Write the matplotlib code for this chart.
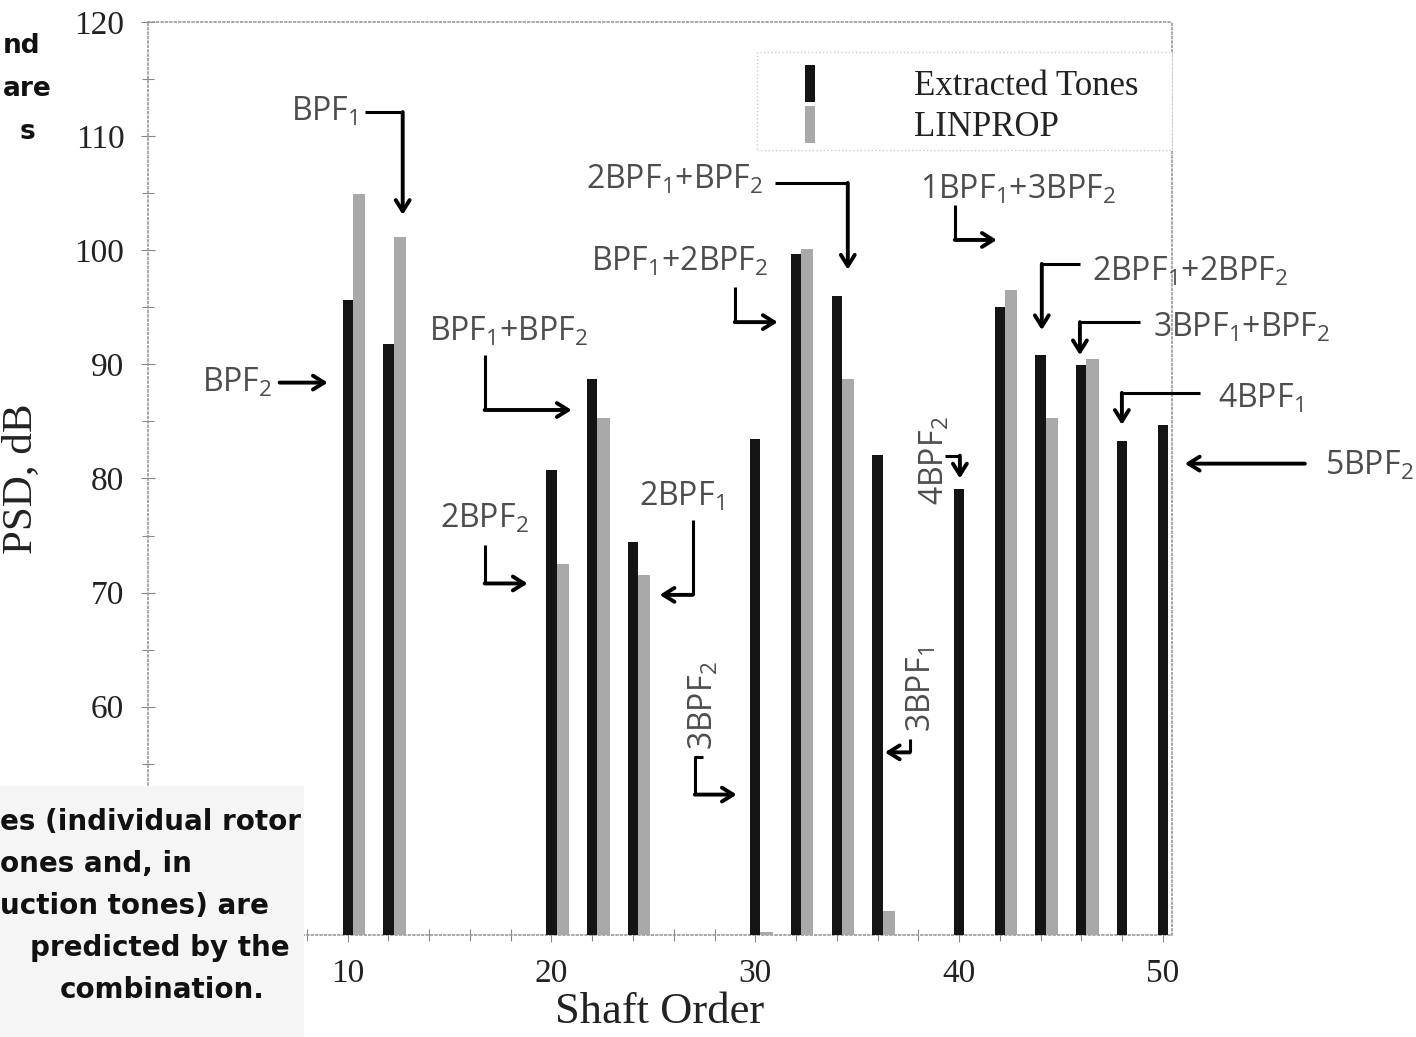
import matplotlib
matplotlib.use('Agg')
import matplotlib.pyplot as plt
from matplotlib.patches import Patch, Rectangle
from matplotlib.ticker import MultipleLocator
import numpy as np

# shaft orders of the tones and their PSD levels (dB)
orders = [10, 12, 20, 22, 24, 30, 32, 34, 36, 40, 42, 44, 46, 48, 50]
extracted = [95.6, 91.8, 80.7, 88.7, 74.4, 83.5, 99.7, 96.0, 82.1, 79.1, 95.0, 90.8, 89.9, 83.3, 84.7]
linprop = [104.9, 101.2, 72.5, 85.3, 71.5, 40.3, 100.1, 88.7, 42.1, np.nan, 96.5, 85.3, 90.5, np.nan, np.nan]

# tone labels: text, text position, arrow path (last point = arrow tip), rotation, alignment
tone_labels = [
    ('BPF$_1$', (10.5, 112.1), [(10.83, 112.1), (12.70, 112.1), (12.70, 103.1)], 0, 'right'),
    ('BPF$_2$', (6.3, 88.4), [(6.66, 88.4), (9.02, 88.4)], 0, 'right'),
    ('BPF$_1$+BPF$_2$', (17.9, 92.8), [(16.72, 90.8), (16.72, 86.0), (20.99, 86.0)], 0, 'center'),
    ('2BPF$_1$+BPF$_2$', (30.4, 106.2), [(30.96, 105.9), (34.54, 105.9), (34.54, 98.3)], 0, 'right'),
    ('BPF$_1$+2BPF$_2$', (26.3, 99.0), [(28.99, 96.8), (28.99, 93.7), (31.10, 93.7)], 0, 'center'),
    ('1BPF$_1$+3BPF$_2$', (42.9, 105.3), [(39.79, 104.0), (39.79, 100.9), (41.85, 100.9)], 0, 'center'),
    ('2BPF$_1$+2BPF$_2$', (46.5, 98.1), [(45.93, 98.8), (44.06, 98.8), (44.06, 93.0)], 0, 'left'),
    ('3BPF$_1$+BPF$_2$', (49.5, 93.2), [(48.87, 93.7), (45.93, 93.7), (45.93, 90.8)], 0, 'left'),
    ('4BPF$_1$', (52.7, 87.0), [(51.82, 87.5), (47.99, 87.5), (47.99, 84.7)], 0, 'left'),
    ('5BPF$_2$', (57.95, 81.1), [(56.97, 81.3), (51.08, 81.3)], 0, 'left'),
    ('2BPF$_2$', (16.7, 76.5), [(16.72, 74.2), (16.72, 70.8), (18.83, 70.8)], 0, 'center'),
    ('2BPF$_1$', (26.4, 78.4), [(26.93, 76.4), (26.93, 69.8), (25.31, 69.8)], 0, 'center'),
    ('3BPF$_2$', (27.5, 60.1), [(27.42, 55.6), (27.03, 55.6), (27.03, 52.3), (29.09, 52.3)], 90, 'center'),
    ('3BPF$_1$', (38.2, 61.5), [(37.58, 57.2), (37.58, 56.0), (36.36, 56.0)], 90, 'center'),
    ('4BPF$_2$', (38.8, 81.6), [(39.30, 82.0), (40.04, 82.0), (40.04, 80.0)], 90, 'center'),
]

# fragments of slide text that overlap the scanned figure
frag_top = ['nd', 'are', 's']
frag_bottom = ['es (individual rotor', 'ones and, in', 'uction tones) are',
               'predicted by the', 'combination.']

plt.rcParams['mathtext.fontset'] = 'custom'
plt.rcParams['mathtext.rm'] = 'Open Sans'
plt.rcParams['mathtext.it'] = 'Open Sans:italic'
plt.rcParams['mathtext.bf'] = 'Open Sans:bold'

fig = plt.figure(figsize=(14.16, 10.37), dpi=100)
ax = fig.add_axes([0.1045, 0.0984, 0.7232, 0.8804])

x = np.array(orders, dtype=float)
ax.bar(x - 0.25, extracted, 0.5, align='edge', color='#141414', label='Extracted Tones', zorder=3)
ax.bar(x + 0.25, linprop, 0.6, align='edge', color='#a9a9a9', label='LINPROP', zorder=3)

ax.set_xlim(0.2, 50.45)
ax.set_ylim(40, 120)
ax.xaxis.set_major_locator(MultipleLocator(10))
ax.xaxis.set_minor_locator(MultipleLocator(2))
ax.set_yticks([60, 70, 80, 90, 100, 110, 120])
ax.yaxis.set_minor_locator(MultipleLocator(5))
ax.tick_params(which='both', direction='inout', color='#888888', width=0.8)
ax.tick_params(which='major', length=10, labelsize=24, pad=12)
ax.tick_params(which='minor', length=8)
for lab in ax.get_xticklabels() + ax.get_yticklabels():
    lab.set_family('Liberation Serif')
    lab.set_color('#222222')
for s in ax.spines.values():
    s.set_color('#9a9a9a')
    s.set_linestyle(':')
    s.set_linewidth(1.2)

ax.set_xlabel('Shaft Order', family='Liberation Serif', fontsize=32, color='#222222', labelpad=2)
ax.set_ylabel('PSD, dB', family='Liberation Serif', fontsize=31, color='#222222')
ax.yaxis.set_label_coords(-0.105, 0.5)

# legend box drawn separately so its padding matches the scan
ax.add_patch(Rectangle((0.595, 0.860), 0.405, 0.107, transform=ax.transAxes,
                       facecolor='white', edgecolor='#cccccc', linestyle=':', lw=1.0,
                       zorder=4, clip_on=False))
handles = [Patch(facecolor='#141414'), Patch(facecolor='#a9a9a9')]
leg = ax.legend(handles, ['Extracted Tones', 'LINPROP'], loc='upper left',
                bbox_to_anchor=(0.6416, 0.953), borderaxespad=0, borderpad=0,
                handlelength=0.3, handleheight=1.25, handletextpad=2.85, labelspacing=0.1,
                frameon=False, prop={'family': 'Liberation Serif', 'size': 25})
leg.set_zorder(6)
for t in leg.get_texts():
    t.set_color('#222222')

arrow_style = '->,head_length=0.8,head_width=0.5'
for text, pos, path, rot, ha in tone_labels:
    ax.text(pos[0], pos[1], text, rotation=rot, ha=ha, va='center', fontsize=23,
            family='Open Sans', color='#4d4d4d', clip_on=False, zorder=5)
    if len(path) > 2:
        xs, ys = zip(*path[:-1])
        ax.plot(xs, ys, color='black', lw=2.2, clip_on=False, zorder=5, solid_capstyle='butt')
    ax.annotate('', xy=path[-1], xytext=path[-2], annotation_clip=False, zorder=5,
                arrowprops=dict(arrowstyle=arrow_style, color='black', lw=2.8,
                                shrinkA=0, shrinkB=0))

fig.patches.append(Rectangle((0, 0), 0.215, 0.242, transform=fig.transFigure,
                             facecolor='#f5f5f5', edgecolor='none', zorder=0))
frag_top_left = [0.002, 0.002, 0.014]
for i, t in enumerate(frag_top):
    fig.text(frag_top_left[i], 0.956 - i * 0.0415, t, ha='left', va='center', fontsize=19,
             weight='bold', family='DejaVu Sans', color='#111111')
frag_bottom_x = [0.0, 0.0, 0.0, 0.021, 0.042]
for i, t in enumerate(frag_bottom):
    fig.text(frag_bottom_x[i], 0.207 - i * 0.0405, t, ha='left', va='center', fontsize=20,
             weight='bold', family='DejaVu Sans', color='#111111')

fig.savefig('out.png', dpi=100, facecolor='white')
